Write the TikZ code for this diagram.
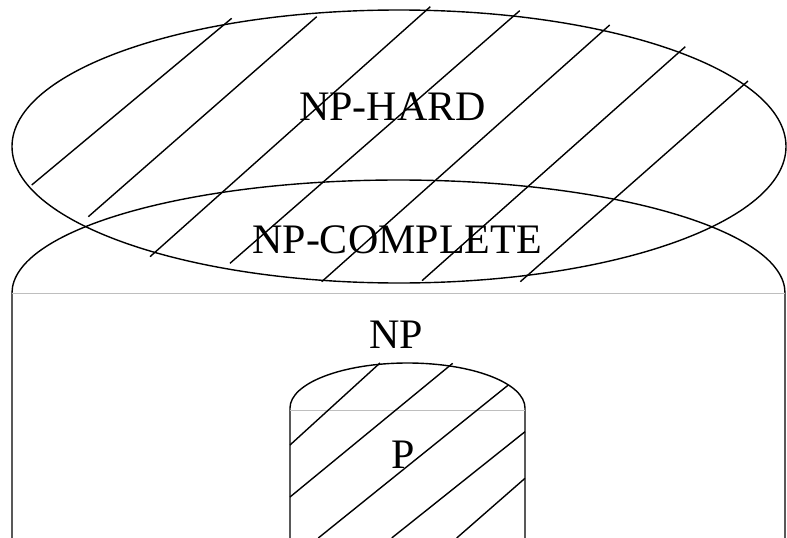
\documentclass[tikz,border=0pt]{standalone}
\usepackage{fontspec}
\setmainfont{Liberation Serif}
\definecolor{seamcolor}{RGB}{190,190,190}

\begin{document}
\begin{tikzpicture}[x=1pt, y=-1pt, line width=1.4pt,
  every node/.style={font=\fontsize{42}{50}\selectfont, anchor=base}]
\useasboundingbox (0,0) rectangle (787,538);
\clip (0,0) rectangle (787,538);

% The classes
\draw (399,146.5) ellipse [x radius=387pt, y radius=136.5pt]; % NP-hard
\draw (12,538) -- (12,293) arc [start angle=180, end angle=0, x radius=386.5pt, y radius=113pt] -- (785,538); % NP
\draw (290,538) -- (290,408) arc [start angle=180, end angle=0, x radius=117.5pt, y radius=45pt] -- (525,538); % P

% Seams where the domes meet the walls
\draw[seamcolor, line width=0.9pt] (12,293) -- (785,293);
\draw[seamcolor, line width=0.9pt] (290,410) -- (525,410);

% Hatching of NP-hard
\foreach \xa/\ya/\xb/\yb in {31.7/185/231.7/18.3, 88.3/216.7/316.7/16.7, 150/256.7/430.3/6.7,
    230/263.3/519.7/10.7, 321.7/281.7/609.7/25, 422/280.7/685.3/46.7, 520.3/281.7/748/81}
  \draw (\xa,\ya) -- (\xb,\yb);

% Hatching of P
\foreach \xa/\ya/\xb/\yb in {290/445/380/363, 290/497/452.7/363.3, 318.3/538/508.3/385,
    391.7/538/525/431.7, 456.7/538/525/478.3}
  \draw (\xa,\ya) -- (\xb,\yb);

% Labels
\node (hard) at (392.5,120) {NP-HARD};
\node (complete) at (397,253) {NP-COMPLETE};
\node (np) at (396.5,348) {NP};
\node (p) at (403.5,468) {P};
\end{tikzpicture}
\end{document}
